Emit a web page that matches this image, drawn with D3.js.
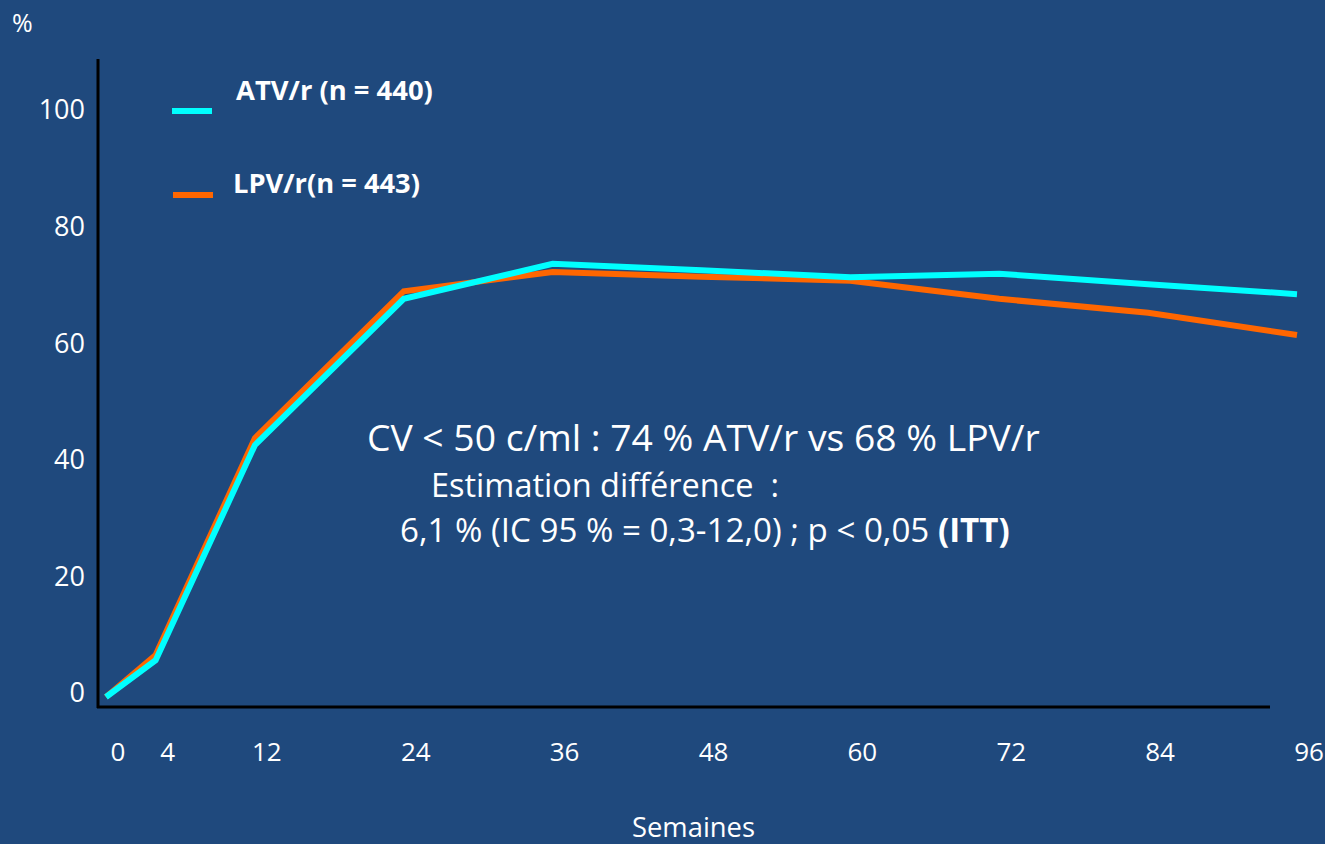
<!DOCTYPE html>
<html>
<head>
<meta charset="utf-8">
<script src="https://cdn.jsdelivr.net/npm/d3@7"></script>
<style>
  html, body { margin: 0; padding: 0; background: #1F497D; }
  svg { display: block; }
  text { font-family: "Open Sans", "Noto Sans", sans-serif; fill: #ffffff; white-space: pre; }
</style>
</head>
<body>
<svg id="chart" width="1325" height="844"></svg>
<script>
// Weeks of follow-up and proportion of patients with viral load < 50 c/ml (%)
const weeks = [0, 4, 12, 24, 36, 48, 60, 72, 84, 96];
const atvValues = [0, 6.3, 43.2, 68.3, 74.3, 73.2, 72.0, 72.6, 70.8, 69.1];
const lpvValues = [0, 7.2, 44.4, 69.6, 72.9, 72.1, 71.4, 68.3, 65.9, 62.1];
const yTicks = [0, 20, 40, 60, 80, 100];
const seriesNames = ["ATV/r (n = 440)", "LPV/r(n = 443)"];
const seriesColors = ["#00FFFF", "#FF6600"];

const svg = d3.select("#chart");

svg.append("rect").attr("width", 1325).attr("height", 844).attr("fill", "#1F497D");

const x = d3.scaleLinear().domain([0, 96]).range([106, 1297]);
const y = d3.scaleLinear().domain([0, 100]).range([697, 114]);

// scale a text's font size so it spans the given width
function fitWidth(sel, width) {
  const fs = parseFloat(sel.attr("font-size"));
  const w = sel.node().getComputedTextLength();
  sel.attr("font-size", fs * width / w);
  return sel;
}

// Axes lines
svg.append("line").attr("x1", 98).attr("x2", 98).attr("y1", 59).attr("y2", 708)
  .attr("stroke", "#000").attr("stroke-width", 3);
svg.append("line").attr("x1", 97).attr("x2", 1270).attr("y1", 707).attr("y2", 707)
  .attr("stroke", "#000").attr("stroke-width", 3);

// Y tick labels
svg.append("g").selectAll("text").data(yTicks).join("text")
  .attr("x", 85).attr("y", d => y(d) - 4).attr("dy", "0.35em")
  .attr("text-anchor", "end").attr("font-size", 27)
  .text(d => d);

// X tick labels
svg.append("g").selectAll("text").data(weeks).join("text")
  .attr("x", d => x(d) + 12).attr("y", 752).attr("dy", "0.35em")
  .attr("text-anchor", "middle").attr("font-size", 26)
  .text(d => d);

// Axis titles
svg.append("text").attr("x", 12).attr("y", 23).attr("dy", "0.35em")
  .attr("font-size", 25).text("%");
fitWidth(svg.append("text").attr("x", 632).attr("y", 827).attr("dy", "0.35em")
  .attr("font-size", 24).text("Semaines"), 123);

// Series lines
const line = d3.line().x((d, i) => x(weeks[i])).y(d => y(d)).curve(d3.curveLinear);
[lpvValues, atvValues].forEach((vals, k) => {
  svg.append("path").datum(vals)
    .attr("d", line)
    .attr("fill", "none")
    .attr("stroke", k === 0 ? seriesColors[1] : seriesColors[0])
    .attr("stroke-width", 6)
    .attr("stroke-linejoin", "miter");
});

// Legend
const legendRows = [
  { name: seriesNames[0], color: seriesColors[0], lx: 172, ly: 111, tx: 236, ty: 90, w: 197 },
  { name: seriesNames[1], color: seriesColors[1], lx: 173, ly: 195, tx: 233, ty: 183, w: 187 }
];
legendRows.forEach(r => {
  svg.append("line").attr("x1", r.lx).attr("x2", r.lx + 40).attr("y1", r.ly).attr("y2", r.ly)
    .attr("stroke", r.color).attr("stroke-width", 6);
  fitWidth(svg.append("text").attr("x", r.tx).attr("y", r.ty).attr("dy", "0.35em")
    .attr("font-size", 22).attr("font-weight", "bold").text(r.name), r.w);
});

// Annotation
fitWidth(svg.append("text").attr("x", 367).attr("y", 438).attr("dy", "0.35em")
  .attr("font-size", 34).text("CV < 50 c/ml : 74 % ATV/r vs 68 % LPV/r"), 673);
fitWidth(svg.append("text").attr("x", 431).attr("y", 486).attr("dy", "0.35em")
  .attr("font-size", 28).text("Estimation différence  :"), 348);
const t3 = svg.append("text").attr("x", 400).attr("y", 530).attr("dy", "0.35em")
  .attr("font-size", 28);
t3.append("tspan").text("6,1 % (IC 95 % = 0,3-12,0) ; p < 0,05 ");
t3.append("tspan").attr("font-weight", "bold").text("(ITT)");
fitWidth(t3, 610);
</script>
</body>
</html>
